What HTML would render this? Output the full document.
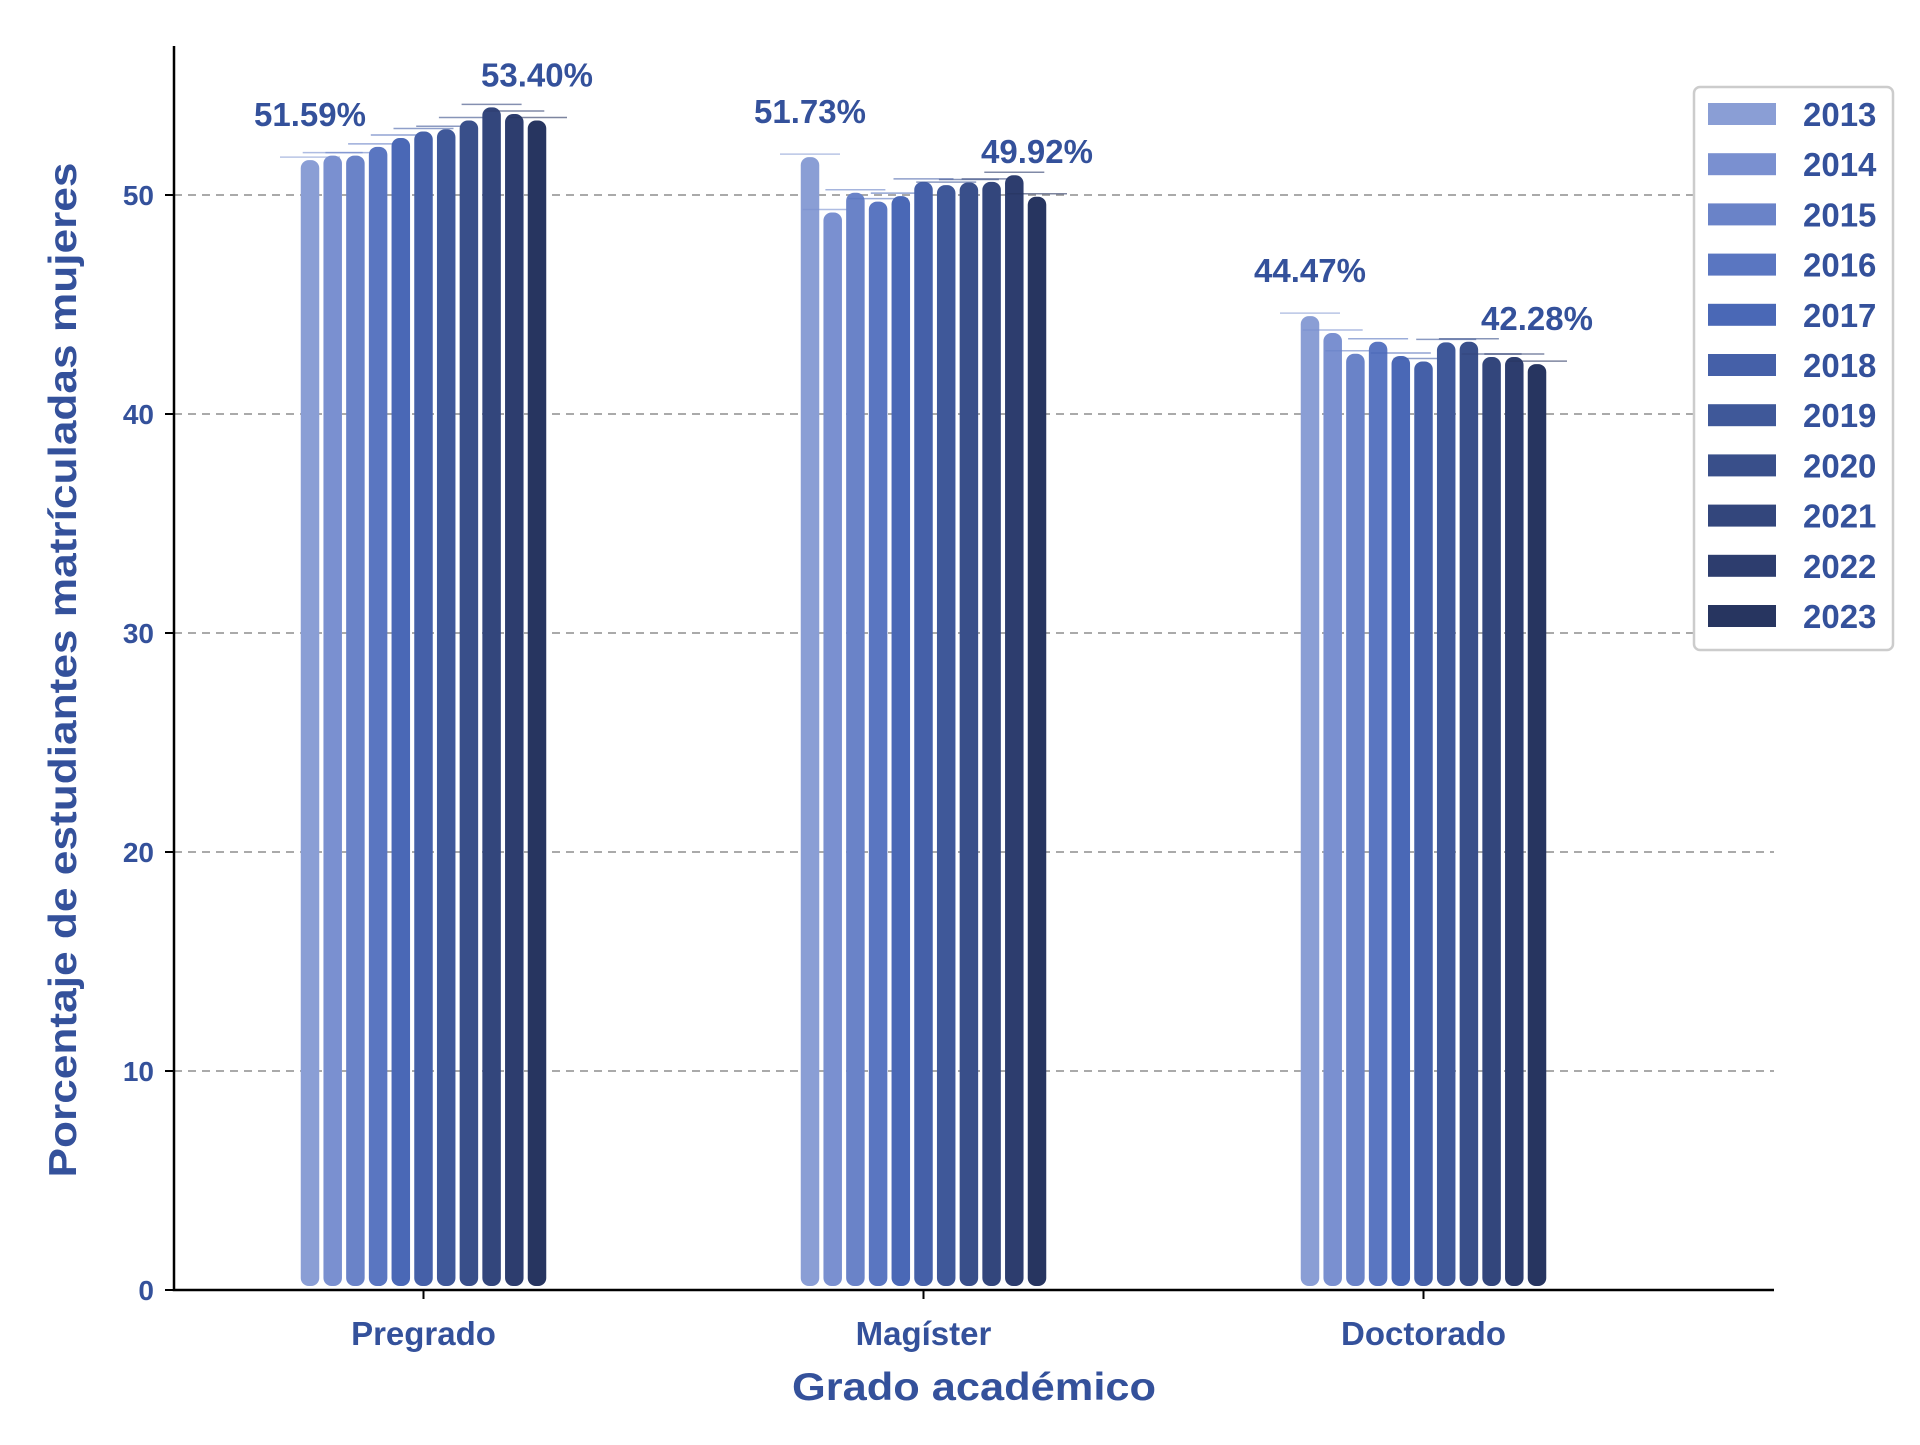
<!DOCTYPE html>
<html><head><meta charset="utf-8"><style>
body{margin:0;background:#fff;font-family:"Liberation Sans",sans-serif}
svg text{font-family:"Liberation Sans",sans-serif;font-weight:bold;fill:#34519b}
</style></head><body>
<svg id="chart" width="1920" height="1440" viewBox="0 0 1920 1440" xmlns="http://www.w3.org/2000/svg">
<g id="grid"></g>
<g id="bars"></g>
<g id="axes"></g>
<g id="legend"></g>
<text x="0" y="0" transform="translate(76,670) rotate(-90)" text-anchor="middle" font-size="39" textLength="1015" lengthAdjust="spacingAndGlyphs">Porcentaje de estudiantes matrículadas mujeres</text>
<text x="974" y="1400" text-anchor="middle" font-size="39" textLength="364" lengthAdjust="spacingAndGlyphs">Grado académico</text>
</svg>
<script>
const categories = ["Pregrado","Magíster","Doctorado"];
const years = ["2013","2014","2015","2016","2017","2018","2019","2020","2021","2022","2023"];
const pregrado = [51.59,51.8,51.8,52.2,52.6,52.9,53.0,53.4,54.0,53.7,53.40];
const magister = [51.73,49.2,50.1,49.7,49.95,50.6,50.45,50.57,50.6,50.9,49.92];
const doctorado = [44.47,43.7,42.75,43.3,42.65,42.4,43.27,43.3,42.6,42.6,42.28];
const yTicks = [0,10,20,30,40,50];
const colors = ["#8a9ed5","#7a90d0","#6a83c8","#5a76c1","#4a68b6","#4560a8","#3f5899","#394f8a","#33467c","#2d3d6e","#273560"];
const series = [pregrado, magister, doctorado];

const NS="http://www.w3.org/2000/svg";
const x0=174,x1=1774,yBase=1290,unit=21.9,groupStep=500,firstCenter=423.5,barStep=22.7,barW=18.5;
const y=v=>yBase-v*unit;
const gx=i=>firstCenter+i*groupStep;
const bx=(i,j)=>gx(i)+(j-(years.length-1)/2)*barStep;
function mk(tag,attrs,parent){const e=document.createElementNS(NS,tag);for(const k in attrs)e.setAttribute(k,attrs[k]);parent.appendChild(e);return e;}
const grid=document.getElementById('grid'),bars=document.getElementById('bars'),axes=document.getElementById('axes'),legend=document.getElementById('legend');

yTicks.forEach(t=>{
  if(t>0){const l=mk('line',{x1:x0,x2:x1,y1:y(t),y2:y(t),stroke:'#aaaaaa','stroke-width':2,'stroke-dasharray':'8,6'},grid);
  
  }
  const tk=mk('line',{x1:x0-9,x2:x0,y1:y(t),y2:y(t),stroke:'#000','stroke-width':2},axes);
  
  
  const tx=mk('text',{x:x0-20,y:y(t)+10,'text-anchor':'end','font-size':28},axes);
  tx.textContent=t;
  
  
});

series.forEach((vals,i)=>{
  vals.forEach((v,j)=>{
    const cx=bx(i,j);
    const hl=mk('line',{x1:cx-30,x2:cx+30,y1:y(v)-3,y2:y(v)-3,stroke:colors[j],'stroke-width':1.5,opacity:0.6},bars);
    
    
    const r=mk('rect',{x:cx-barW/2,y:y(v),width:barW,height:y(0)-4-y(v),rx:8,ry:8,fill:colors[j]},bars);
    
    
  });
  [0,vals.length-1].forEach(j=>{
    const t=mk('text',{x:bx(i,j),y:y(vals[j])-34,'text-anchor':'middle','font-size':33},bars);
    t.textContent=vals[j].toFixed(2)+'%';
    
    
  });
  const tk=mk('line',{x1:gx(i),x2:gx(i),y1:yBase,y2:yBase+9,stroke:'#000','stroke-width':2},axes);
  
  
  const ct=mk('text',{x:gx(i),y:1345,'text-anchor':'middle','font-size':33},axes);
  ct.textContent=categories[i];
  
  
});

const ax=mk('path',{d:`M${x0} 46 V${yBase} H${x1}`,fill:'none',stroke:'#000','stroke-width':2.5},axes);



const lb=mk('rect',{x:1694,y:87,width:199,height:563,rx:6,fill:'#fff',stroke:'#cccccc','stroke-width':2.5},legend);


years.forEach((yr,j)=>{
  const cy=114+j*50.2;
  const s=mk('rect',{x:1708,y:cy-11,width:68,height:22,fill:colors[j]},legend);
  
  
  const t=mk('text',{x:1803,y:cy+12,'font-size':33},legend);
  t.textContent=yr;
  
  
});
</script>
</body></html>
